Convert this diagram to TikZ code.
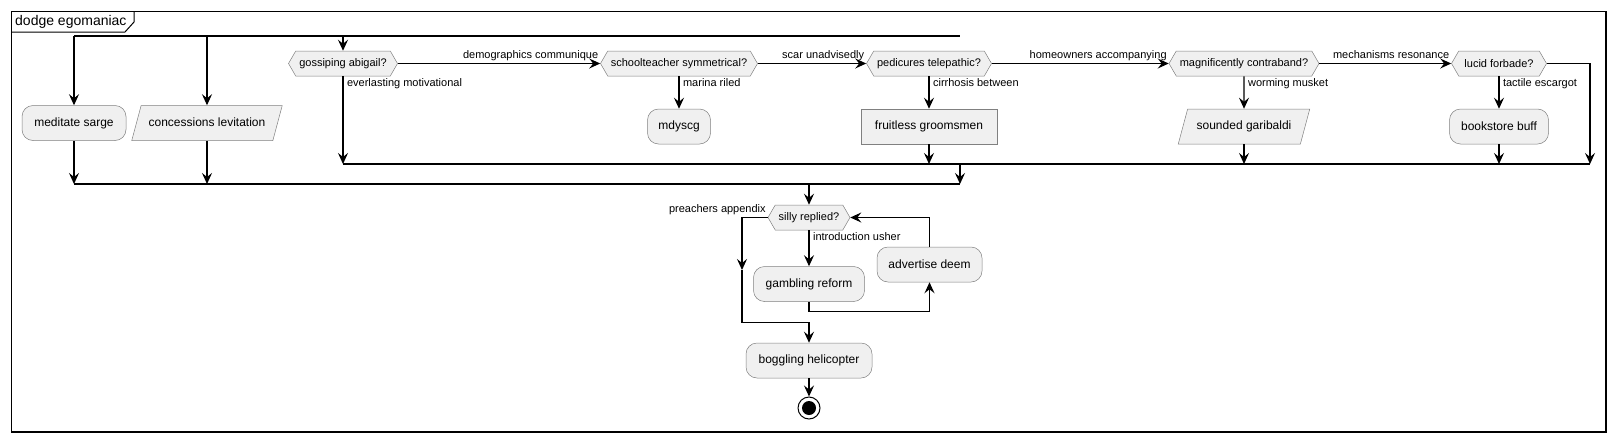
\documentclass[tikz,border=0pt]{standalone}
\usepackage{fontspec}
\setmainfont{Liberation Sans}
\usetikzlibrary{shapes.geometric}
\usetikzlibrary{shapes.symbols}
\usetikzlibrary{calc}
\usetikzlibrary{arrows.meta}

\begin{document}
\begin{tikzpicture}[x=1pt, y=-1pt,
    activity/.style={rectangle, rounded corners=11pt, draw=black!50, fill=black!6, line width=0.5pt, minimum height=35pt, inner sep=0pt, font=\fontsize{12}{14}\selectfont},
    inout/.style={trapezium, trapezium left angle=75, trapezium right angle=105, draw=black!50, fill=black!6, line width=0.5pt, text height=9pt, text depth=3pt, inner ysep=11.5pt, inner xsep=7.5pt, font=\fontsize{12}{14}\selectfont},
    choice/.style={signal, signal to=west and east, signal pointer angle=120, draw=black!50, fill=black!6, line width=0.5pt, minimum height=25pt, inner sep=0pt, font=\fontsize{11}{13}\selectfont},
    guard/.style={inner sep=1.5pt, text height=8.5pt, text depth=2.5pt, font=\fontsize{11}{13}\selectfont},
    link/.style={draw, line width=1.1pt, -{Stealth[length=11pt,width=10pt,inset=4pt]}},
    syncbar/.style={line width=1.6pt}]
    \useasboundingbox (0,0) rectangle (1616,442);
    \draw[line width=1.5pt] (11.5,11.5) rectangle (1606,432);
    \draw[line width=1pt] (11.5,32) -- (125,32) -- (134,22) -- (134,11.5);
    \node[anchor=west, inner sep=0pt, font=\fontsize{14}{16}\selectfont] (title) at (15,22) {dodge egomaniac};

    \node[activity, minimum width=104pt] (meditate) at (74,123) {meditate sarge};
    \node[inout] (concessions) at (207,123) {concessions levitation};
    \node[choice, minimum width=109pt] (gossiping) at (343,63.5) {gossiping abigail?};
    \node[choice, minimum width=157pt] (schoolteacher) at (679,63.5) {schoolteacher symmetrical?};
    \node[activity, minimum width=63pt] (mdyscg) at (679,126.5) {mdyscg};
    \node[choice, minimum width=125pt] (pedicures) at (929,63.5) {pedicures telepathic?};
    \node[activity, sharp corners, minimum width=136pt] (fruitless) at (929,126.5) {fruitless groomsmen};
    \node[choice, minimum width=150pt] (magnificently) at (1244,63.5) {magnificently contraband?};
    \node[inout, inner xsep=9pt] (sounded) at (1244,126.5) {sounded garibaldi};
    \node[choice, minimum width=95pt] (lucid) at (1499,63.5) {lucid forbade?};
    \node[activity, minimum width=99pt] (bookstore) at (1499,126.5) {bookstore buff};
    \node[choice, minimum width=82pt] (silly) at (809,217.5) {silly replied?};
    \node[activity, minimum width=111pt] (gambling) at (809,284) {gambling reform};
    \node[activity, minimum width=105pt] (advertise) at (929.5,264.5) {advertise deem};
    \node[activity, minimum width=126pt] (boggling) at (809,360.5) {boggling helicopter};
    \node[circle, draw, line width=1pt, minimum size=22pt, inner sep=0pt] (stop) at (809,408) {};
    \fill (stop.center) circle[radius=7pt];

    \coordinate (fork1) at (74,36);
    \coordinate (fork2) at (960,36);
    \coordinate (join1) at (74,184);
    \coordinate (join2) at (960,184);
    \coordinate (merge1) at (343,164);
    \coordinate (merge2) at (1590,164);
    \coordinate (back) at (742,270);

    \draw[syncbar] (fork1) -- (fork2);
    \foreach \n in {meditate, concessions, gossiping}
        \draw[link] (\n.north |- fork1) -- (\n.north);
    \foreach \n in {meditate, concessions}
        \draw[link] (\n.south) -- (\n.south |- join1);
    \draw[syncbar] (join1) -- (join2);

    \foreach \a/\b/\t in {gossiping/schoolteacher/demographics communique, schoolteacher/pedicures/scar unadvisedly, pedicures/magnificently/homeowners accompanying, magnificently/lucid/mechanisms resonance}
        \draw[link] (\a.east) -- (\b.west) node[guard, anchor=south east] {\t};
    \foreach \a/\b/\t in {schoolteacher/mdyscg/marina riled, pedicures/fruitless/cirrhosis between, magnificently/sounded/worming musket, lucid/bookstore/tactile escargot, silly/gambling/introduction usher}
        \draw[link] (\a.south) node[guard, anchor=north west, xshift=2pt] {\t} -- (\b.north);
    \draw[link] (gossiping.south) node[guard, anchor=north west, xshift=2pt] {everlasting motivational} -- (gossiping.south |- merge1);

    \foreach \n in {fruitless, sounded, bookstore}
        \draw[link] (\n.south) -- (\n.south |- merge1);
    \draw[link] (lucid.east) -| (merge2);
    \draw[syncbar] (merge1) -- (merge2);
    \draw[link] (join2 |- merge1) -- (join2);

    \draw[link] (silly.north |- join1) -- (silly.north);
    \draw[link] (gambling.south) -- ++(0,10) -| (advertise.south);
    \draw[link] (advertise.north) |- (silly.east);
    \draw[link] (silly.west) node[guard, anchor=south east] {preachers appendix} -| (back);
    \draw[link] (back) |- ($(boggling.north)+(0,-20)$) -- (boggling.north);
    \draw[link] (boggling.south) -- (stop.north);
\end{tikzpicture}
\end{document}
